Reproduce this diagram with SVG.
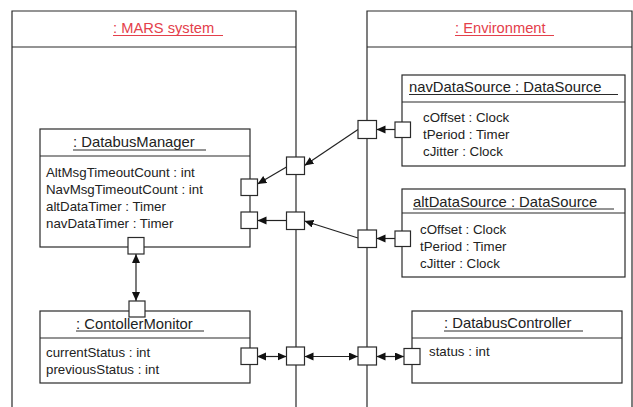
<svg xmlns="http://www.w3.org/2000/svg" width="633" height="407" viewBox="0 0 633 407">
  <style>
    .frame { fill: none; stroke: #2a2a2a; stroke-width: 1.2; }
    .box { fill: #fff; stroke: #2a2a2a; stroke-width: 1.2; }
    .port { fill: #fff; stroke: #2a2a2a; stroke-width: 1.2; }
    .ul { stroke: #2a2a2a; stroke-width: 1; }
    .ulr { stroke: #e4404b; stroke-width: 1; }
    .title { font-family: "Liberation Sans", Arial, sans-serif; font-size: 14.8px; fill: #222; }
    .head { font-family: "Liberation Sans", Arial, sans-serif; font-size: 14.7px; fill: #e4404b; }
    .attr { font-family: "Liberation Sans", Arial, sans-serif; font-size: 13.3px; fill: #222; }
    .conn { fill: none; stroke: #222; stroke-width: 1.2; }
    .one { marker-end: url(#arrow); }
    .two { marker-start: url(#arrow); marker-end: url(#arrow); }
  </style>
  <defs>
    <marker id="arrow" markerUnits="userSpaceOnUse" markerWidth="10" markerHeight="9" refX="9" refY="4" orient="auto-start-reverse">
      <path d="M0,0 L9,4 L0,8 z" fill="#111"/>
    </marker>
  </defs>

  <!-- MARS system frame -->
  <g id="mars-system">
    <path class="frame" d="M12,420 V11 H296 V420 M12,47 H296"/>
    <text class="head" x="113" y="33">: MARS system</text>
    <line class="ulr" x1="113" y1="35.5" x2="223" y2="35.5"/>
  </g>

  <!-- Environment frame -->
  <g id="environment">
    <path class="frame" d="M367,420 V11 H632 V420 M367,47 H632"/>
    <text class="head" x="455" y="33">: Environment</text>
    <line class="ulr" x1="455" y1="35.5" x2="554" y2="35.5"/>
  </g>

  <!-- DatabusManager -->
  <g id="databus-manager">
    <rect class="box" x="40" y="129" width="210" height="118"/>
    <line class="frame" x1="40" y1="156" x2="250" y2="156"/>
    <text class="title" x="73" y="147">: DatabusManager</text>
    <line class="ul" x1="73" y1="150" x2="206" y2="150"/>
    <text class="attr" x="46" y="177">AltMsgTimeoutCount : int</text>
    <text class="attr" x="46" y="194">NavMsgTimeoutCount : int</text>
    <text class="attr" x="46" y="211">altDataTimer : Timer</text>
    <text class="attr" x="46" y="228">navDataTimer : Timer</text>
  </g>

  <!-- ContollerMonitor -->
  <g id="controller-monitor">
    <rect class="box" x="40" y="311" width="210" height="72"/>
    <line class="frame" x1="40" y1="338" x2="250" y2="338"/>
    <text class="title" x="76" y="328.5">: ContollerMonitor</text>
    <line class="ul" x1="76" y1="331" x2="204" y2="331"/>
    <text class="attr" x="46" y="357">currentStatus : int</text>
    <text class="attr" x="46" y="374">previousStatus : int</text>
  </g>

  <!-- navDataSource -->
  <g id="nav-data-source">
    <rect class="box" x="402" y="75" width="223" height="91"/>
    <line class="frame" x1="402" y1="102" x2="625" y2="102"/>
    <text class="title" x="409" y="92">navDataSource : DataSource</text>
    <line class="ul" x1="409" y1="94.5" x2="618" y2="94.5"/>
    <text class="attr" x="423" y="122">cOffset : Clock</text>
    <text class="attr" x="423" y="139">tPeriod : Timer</text>
    <text class="attr" x="423" y="156">cJitter : Clock</text>
  </g>

  <!-- altDataSource -->
  <g id="alt-data-source">
    <rect class="box" x="402" y="189" width="223" height="88"/>
    <line class="frame" x1="402" y1="213" x2="625" y2="213"/>
    <text class="title" x="413" y="206.5">altDataSource : DataSource</text>
    <line class="ul" x1="413" y1="209" x2="614" y2="209"/>
    <text class="attr" x="420" y="234">cOffset : Clock</text>
    <text class="attr" x="420" y="251">tPeriod : Timer</text>
    <text class="attr" x="420" y="268">cJitter : Clock</text>
  </g>

  <!-- DatabusController -->
  <g id="databus-controller">
    <rect class="box" x="412" y="311" width="210" height="72"/>
    <line class="frame" x1="412" y1="338" x2="622" y2="338"/>
    <text class="title" x="444" y="328">: DatabusController</text>
    <line class="ul" x1="444" y1="331" x2="583" y2="331"/>
    <text class="attr" x="429" y="356">status : int</text>
  </g>

  <!-- connectors -->
  <g id="connectors">
    <line class="conn one" x1="395" y1="129.5" x2="376.5" y2="129.5"/>
    <line class="conn one" x1="358" y1="129.5" x2="304.5" y2="165.5"/>
    <line class="conn one" x1="286.5" y1="167" x2="257.5" y2="184"/>
    <line class="conn one" x1="395" y1="238.5" x2="376.5" y2="238.5"/>
    <line class="conn one" x1="358" y1="238" x2="304.5" y2="221"/>
    <line class="conn one" x1="286.5" y1="220.5" x2="257.5" y2="220.5"/>
    <line class="conn two" x1="136" y1="254" x2="136" y2="301"/>
    <line class="conn two" x1="257" y1="356.5" x2="286.5" y2="356.5"/>
    <line class="conn two" x1="304.5" y1="356.5" x2="358" y2="356.5"/>
    <line class="conn two" x1="376.5" y1="356.5" x2="404" y2="356.5"/>
  </g>

  <!-- ports -->
  <g id="ports">
    <rect class="port" x="241" y="179" width="16.5" height="16.5"/>
    <rect class="port" x="241" y="212" width="16.5" height="16.5"/>
    <rect class="port" x="128" y="237.5" width="16" height="16.5"/>
    <rect class="port" x="129" y="301" width="16" height="16"/>
    <rect class="port" x="241" y="348" width="16.5" height="16.5"/>
    <rect class="port" x="286.5" y="157" width="18" height="17.5"/>
    <rect class="port" x="286.5" y="212" width="18" height="17.5"/>
    <rect class="port" x="286.5" y="347" width="18" height="18"/>
    <rect class="port" x="358" y="120.5" width="18.5" height="18"/>
    <rect class="port" x="358" y="230" width="18.5" height="17.5"/>
    <rect class="port" x="358" y="347" width="18.5" height="18"/>
    <rect class="port" x="395" y="122" width="15.5" height="15.5"/>
    <rect class="port" x="395" y="231" width="15.5" height="15.5"/>
    <rect class="port" x="404" y="348.5" width="16" height="16"/>
  </g>
</svg>
